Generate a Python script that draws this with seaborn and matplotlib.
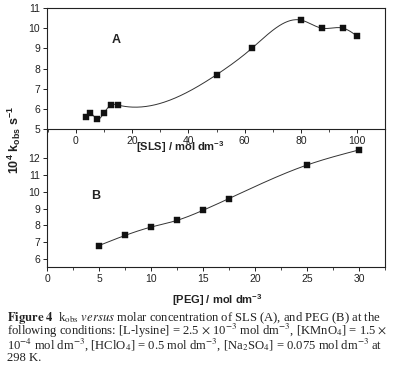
import numpy as np
import matplotlib
matplotlib.use("Agg")
import matplotlib.pyplot as plt
from matplotlib.ticker import MultipleLocator
import seaborn as sns

# panel A: kobs vs [SLS]
sls = [3.75, 5, 7.5, 10, 12.5, 15, 50, 62.5, 80, 87.5, 95, 100]
k_sls = [5.6, 5.8, 5.5, 5.8, 6.2, 6.2, 7.7, 9.0, 10.4, 10.0, 10.0, 9.6]

# panel B: kobs vs [PEG]
peg = [5, 7.5, 10, 12.5, 15, 17.5, 25, 30]
k_peg = [6.8, 7.4, 7.9, 8.3, 8.9, 9.6, 11.6, 12.5]

sns.set_style("ticks")
plt.rcParams['font.family'] = ['Liberation Sans', 'DejaVu Sans']
plt.rcParams['mathtext.fontset'] = 'custom'
plt.rcParams['mathtext.rm'] = 'Liberation Sans:bold'
plt.rcParams['mathtext.it'] = 'Liberation Sans:bold'
plt.rcParams['mathtext.bf'] = 'Liberation Sans:bold'


def spline(x, y, n=300):
    # natural cubic spline, just for drawing the connecting curve
    x = np.asarray(x, float)
    y = np.asarray(y, float)
    m = len(x)
    h = np.diff(x)
    A = np.zeros((m, m))
    r = np.zeros(m)
    A[0, 0] = A[-1, -1] = 1
    for i in range(1, m - 1):
        A[i, i - 1] = h[i - 1]
        A[i, i] = 2 * (h[i - 1] + h[i])
        A[i, i + 1] = h[i]
        r[i] = 6 * ((y[i + 1] - y[i]) / h[i] - (y[i] - y[i - 1]) / h[i - 1])
    M = np.linalg.solve(A, r)
    xs = np.linspace(x[0], x[-1], n)
    idx = np.clip(np.searchsorted(x, xs) - 1, 0, m - 2)
    x0, x1 = x[idx], x[idx + 1]
    hh = x1 - x0
    a = (x1 - xs) / hh
    b = (xs - x0) / hh
    ys = a * y[idx] + b * y[idx + 1] + ((a ** 3 - a) * M[idx] + (b ** 3 - b) * M[idx + 1]) * hh ** 2 / 6
    return xs, ys


fig = plt.figure(figsize=(3.99, 3.77), dpi=100)
ax2 = fig.add_axes([0.1178, 0.2918, 0.847, 0.3652])
ax1 = fig.add_axes([0.1178, 0.657, 0.847, 0.3218])
ax1.patch.set_alpha(0)
ax2.patch.set_alpha(0)

for ax, x, y in [(ax1, sls, k_sls), (ax2, peg, k_peg)]:
    xs, ys = spline(x, y)
    ax.plot(xs, ys, color='#333333', lw=0.7)
    sns.scatterplot(x=x, y=y, marker='s', s=22, color='#111111',
                    edgecolor='#111111', linewidth=0.3, ax=ax, zorder=3)
    for sp in ax.spines.values():
        sp.set_linewidth(0.8)
        sp.set_color('#222222')
    ax.tick_params(which='major', direction='out', length=3, width=0.7,
                   labelsize=7.5, pad=2, colors='#222222')
    ax.tick_params(which='minor', direction='out', length=2, width=0.6)
    for lab in ax.get_xticklabels() + ax.get_yticklabels():
        lab.set_color('#222222')
        lab.set_family('Liberation Sans')

ax1.set_xlim(-10.2, 109.8)
ax1.set_ylim(5, 11)
ax1.xaxis.set_major_locator(MultipleLocator(20))
ax1.xaxis.set_minor_locator(MultipleLocator(10))
ax1.yaxis.set_major_locator(MultipleLocator(1))
ax1.text(14.2, 9.42, 'A', fontsize=9, fontweight='bold', color='#222222',
         ha='center', va='center')

ax2.set_xlim(0, 32.5)
ax2.set_ylim(5.52, 13.73)
ax2.set_yticks(range(6, 13))
ax2.xaxis.set_major_locator(MultipleLocator(5))
ax2.xaxis.set_minor_locator(MultipleLocator(2.5))
ax2.spines['top'].set_visible(False)
ax2.text(4.7, 9.75, 'B', fontsize=9, fontweight='bold', color='#222222',
         ha='center', va='center')

fig.text(0.451, 1 - 147 / 377, r'[SLS] / mol dm$^{-3}$', ha='center', va='center',
         fontsize=8, fontweight='bold', color='#222222')
fig.text(0.544, 1 - 300 / 377, r'[PEG] / mol dm$^{-3}$', ha='center', va='center',
         fontsize=8, fontweight='bold', color='#222222')
fig.text(14 / 399, 1 - 140 / 377, r'10$^{4}$ k$_{obs}$ s$^{-1}$', ha='center', va='center',
         rotation=90, fontsize=9, fontweight='bold', color='#222222')

caption = [
    r'$\mathbf{Figure\ 4}$  k$_{\mathrm{obs}}$ $\mathit{versus}$ molar concentration of SLS (A), and PEG (B) at the',
    r'following conditions: [L-lysine] = 2.5 $\times$ 10$^{-3}$ mol dm$^{-3}$, [KMnO$_4$] = 1.5 $\times$',
    r'10$^{-4}$ mol dm$^{-3}$, [HClO$_4$] = 0.5 mol dm$^{-3}$, [Na$_2$SO$_4$] = 0.075 mol dm$^{-3}$ at',
    r'298 K.',
]
for i, line in enumerate(caption):
    fig.text(7 / 399, 1 - (318 + i * 13.4) / 377, line, ha='left', va='center',
             fontsize=9.1, family=['Liberation Serif', 'DejaVu Serif'],
             math_fontfamily='stix', color='#222222')

fig.savefig('out.png', dpi=100)
